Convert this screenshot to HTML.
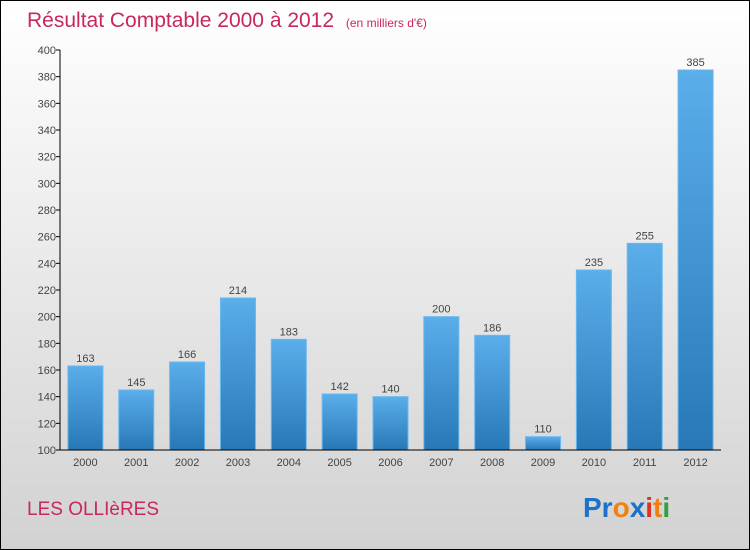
<!DOCTYPE html>
<html><head><meta charset="utf-8"><style>
body{margin:0}
#c{position:relative;width:748px;height:548px;border:1px solid #000;background:linear-gradient(#ffffff,#d2d2d2);font-family:"Liberation Sans",sans-serif;overflow:hidden}
</style></head><body>
<div id="c">
<svg width="748" height="548">
<defs><linearGradient id="bg" x1="0" y1="0" x2="0" y2="1"><stop offset="0" stop-color="#5aaeea"/><stop offset="1" stop-color="#2878b8"/></linearGradient></defs>
<text x="26" y="26" font-size="21" fill="#c8285a">Résultat Comptable 2000 à 2012 <tspan font-size="12" dx="6">(en milliers d'€)</tspan></text>
<g id="plot"></g>
<text x="26" y="514" font-size="19" fill="#c8285a">LES OLLIèRES</text>
<text x="582" y="516" font-size="28" font-weight="bold"><tspan fill="#1a73c8">Pr</tspan><tspan fill="#f08010">o</tspan><tspan fill="#1a73c8">x</tspan><tspan fill="#e03020">i</tspan><tspan fill="#f08010">t</tspan><tspan fill="#30a040">i</tspan></text>
</svg>
</div>
<script>
const years=["2000","2001","2002","2003","2004","2005","2006","2007","2008","2009","2010","2011","2012"];
const values=[163,145,166,214,183,142,140,200,186,110,235,255,385];
const ticks=[100,120,140,160,180,200,220,240,260,280,300,320,340,360,380,400];
const NS="http://www.w3.org/2000/svg";
const g=document.getElementById('plot');
const x0=59,x1=720,yMin=100,yMax=400,py0=449,py1=49;
const y=v=>py0-(v-yMin)/(yMax-yMin)*(py0-py1);
const step=(x1-x0)/years.length;
function mk(t,a,txt){const e=document.createElementNS(NS,t);for(const k in a)e.setAttribute(k,a[k]);if(txt!==undefined)e.textContent=txt;g.appendChild(e);return e;}
ticks.forEach(t=>{
 const l=mk('line',{x1:x0-4,x2:x0,y1:y(t),y2:y(t),stroke:'#000'});
 
 
 const tx=mk('text',{x:x0-4,y:y(t)+4,'font-size':11,fill:'#444','text-anchor':'end'},t);
 
 
});
years.forEach((yr,i)=>{
 const cx=x0+step*(i+0.5),v=values[i];
 const r=mk('rect',{x:cx-17.5,y:y(v),width:35,height:py0-y(v),fill:'url(#bg)',stroke:'#6ab8f0','stroke-width':1});
 
 
 const vl=mk('text',{x:cx,y:y(v)-4,'font-size':11,fill:'#444','text-anchor':'middle'},v);
 
 
 const xl=mk('text',{x:cx,y:py0+16,'font-size':11,fill:'#444','text-anchor':'middle'},yr);
 
 
});
const ya=mk('line',{x1:x0,x2:x0,y1:py1,y2:py0,stroke:'#000'});


const xa=mk('line',{x1:x0,x2:x1,y1:py0,y2:py0,stroke:'#000'});


</script>
</body></html>
